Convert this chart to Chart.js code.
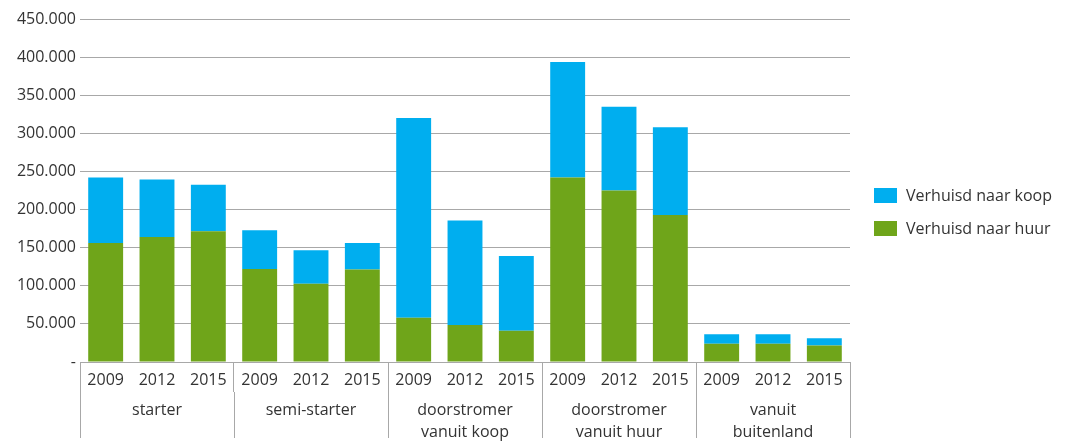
<!DOCTYPE html>
<html>
<head>
<meta charset="utf-8">
<script src="https://cdn.jsdelivr.net/npm/chart.js@4/dist/chart.umd.min.js"></script>
<style>
  html, body { margin: 0; padding: 0; background: #ffffff; }
  #wrap { width: 1069px; height: 442px; position: relative; }
</style>
</head>
<body>
<div id="wrap"><canvas id="chart"></canvas></div>
<script>
// Verhuisde huishoudens per type, naar koop- of huurwoning
const years = ['2009', '2012', '2015'];
const groups = ['starter', 'semi-starter', ['doorstromer', 'vanuit koop'], ['doorstromer', 'vanuit huur'], ['vanuit', 'buitenland']];
const categories = ['2009', '2012', '2015', '2009', '2012', '2015', '2009', '2012', '2015', '2009', '2012', '2015', '2009', '2012', '2015'];

const naarHuur = [156000, 164000, 171500, 122000, 102500, 121500, 58000, 48500, 41000, 242000, 225000, 193000, 24000, 24000, 21500];
const naarKoop = [86000, 75500, 61000, 51000, 44000, 34500, 262000, 137000, 98000, 151500, 110000, 115000, 12300, 12300, 9700];

const yTicks = [0, 50000, 100000, 150000, 200000, 250000, 300000, 350000, 400000, 450000];

const seriesNames = ['Verhuisd naar huur', 'Verhuisd naar koop'];
const seriesColors = ['#6fa51a', '#00aeef'];

const FONT = '"Open Sans", "Noto Sans", sans-serif';
const TEXT = '#333333';
const GRID = '#a8a8a8';

function formatThousands(v) {
  if (v === 0) return '-';
  return String(v).replace(/\B(?=(\d{3})+(?!\d))/g, '.');
}

// Legend drawn at the right of the plot, koop on top
const sideLegend = {
  id: 'sideLegend',
  afterDraw(chart) {
    const ctx = chart.ctx;
    const area = chart.chartArea;
    const items = chart.data.datasets.map(d => ({ label: d.label, color: d.backgroundColor })).reverse();
    ctx.save();
    ctx.font = '16px ' + FONT;
    ctx.textBaseline = 'middle';
    ctx.textAlign = 'left';
    items.forEach((it, i) => {
      const top = 188 + i * 33;
      ctx.fillStyle = it.color;
      ctx.fillRect(area.right + 24, top, 23, 15);
      ctx.fillStyle = TEXT;
      ctx.fillText(it.label, area.right + 56, top + 8);
    });
    ctx.restore();
  }
};

const boundaryColor = ctx => (ctx.type !== 'tick' || ctx.index % years.length === 0) ? GRID : 'rgba(0,0,0,0)';

new Chart(document.getElementById('chart'), {
  type: 'bar',
  data: {
    labels: categories,
    datasets: [
      { label: seriesNames[0], data: naarHuur, backgroundColor: seriesColors[0], stack: 's' },
      { label: seriesNames[1], data: naarKoop, backgroundColor: seriesColors[1], stack: 's' }
    ]
  },
  options: {
    responsive: true,
    maintainAspectRatio: false,
    animation: false,
    layout: { padding: { top: 19, right: 219, bottom: 0, left: 0 } },
    plugins: {
      legend: { display: false },
      tooltip: { enabled: false }
    },
    datasets: {
      bar: { categoryPercentage: 1, barPercentage: 0.68 }
    },
    scales: {
      y: {
        stacked: true,
        min: 0,
        max: 450000,
        afterBuildTicks: s => { s.ticks = yTicks.map(v => ({ value: v })); },
        afterFit: s => { s.width = 80; },
        border: { display: false },
        grid: { color: GRID, lineWidth: 1, drawTicks: false },
        ticks: {
          padding: 4,
          color: TEXT,
          font: { family: FONT, size: 16 },
          callback: v => formatThousands(v)
        }
      },
      x: {
        stacked: true,
        weight: 0,
        afterFit: s => { s.height = 30; },
        border: { display: true, color: GRID, width: 1 },
        grid: {
          offset: true,
          drawOnChartArea: false,
          drawTicks: true,
          tickLength: 30,
          color: boundaryColor,
          tickColor: boundaryColor
        },
        ticks: {
          padding: -21,
          color: TEXT,
          maxRotation: 0,
          autoSkip: false,
          font: { family: FONT, size: 16 }
        }
      },
      x2: {
        type: 'category',
        position: 'bottom',
        weight: 1,
        labels: groups,
        offset: true,
        afterFit: s => { s.height = 50; },
        border: { display: false },
        grid: {
          offset: true,
          drawOnChartArea: false,
          drawTicks: true,
          tickLength: 46,
          color: GRID,
          tickColor: GRID
        },
        ticks: {
          padding: -39,
          color: TEXT,
          maxRotation: 0,
          autoSkip: false,
          font: { family: FONT, size: 16, lineHeight: 1.375 }
        }
      }
    }
  },
  plugins: [sideLegend]
});
</script>
</body>
</html>
